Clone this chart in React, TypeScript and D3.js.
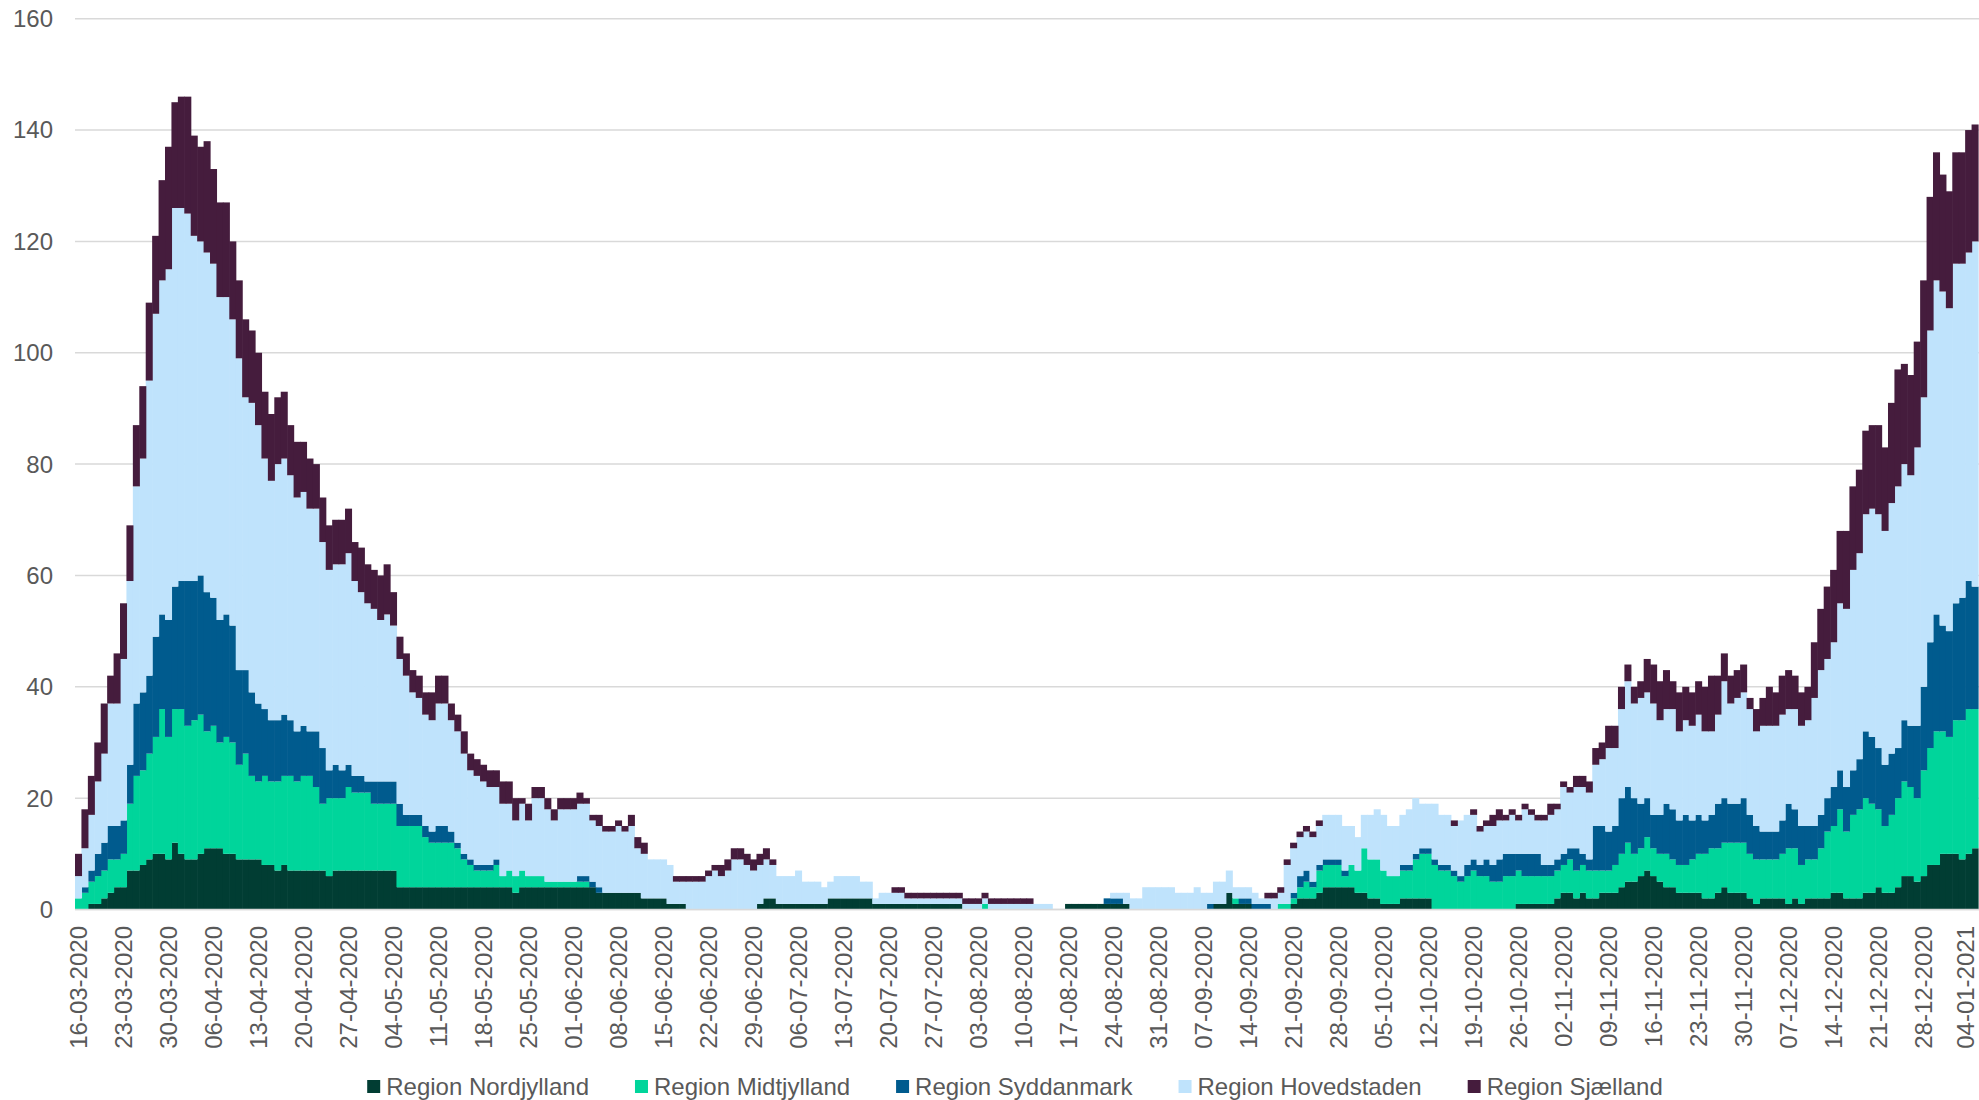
import React from "react";
import * as d3 from "d3";

// ---------- DATA ----------
const startDay = new Date(2020, 2, 16);
const endDay = new Date(2021, 0, 6); // exclusive
const days: Date[] = d3.timeDay.range(startDay, endDay);
const fmt = d3.timeFormat("%d-%m-%Y");
const categories: string[] = days.map((d) => fmt(d));

const tickLabels: string[] = [
  "16-03-2020", "23-03-2020", "30-03-2020", "06-04-2020", "13-04-2020", "20-04-2020", "27-04-2020",
  "04-05-2020", "11-05-2020", "18-05-2020", "25-05-2020", "01-06-2020", "08-06-2020", "15-06-2020",
  "22-06-2020", "29-06-2020", "06-07-2020", "13-07-2020", "20-07-2020", "27-07-2020", "03-08-2020",
  "10-08-2020", "17-08-2020", "24-08-2020", "31-08-2020", "07-09-2020", "14-09-2020", "21-09-2020",
  "28-09-2020", "05-10-2020", "12-10-2020", "19-10-2020", "26-10-2020", "02-11-2020", "09-11-2020",
  "16-11-2020", "23-11-2020", "30-11-2020", "07-12-2020", "14-12-2020", "21-12-2020", "28-12-2020",
  "04-01-2021",
];

const yTicks: number[] = [0, 20, 40, 60, 80, 100, 120, 140, 160];

const seriesNames: string[] = [
  "Region Nordjylland",
  "Region Midtjylland",
  "Region Syddanmark",
  "Region Hovedstaden",
  "Region Sjælland",
];
const seriesColors: string[] = ["#013d33", "#00d59b", "#005b8e", "#bfe3fc", "#451c3d"];

const nordjylland: number[] = [
  0,0,1,1,2,3,4,4,7,7,
  8,9,10,10,9,12,10,9,9,10,
  11,11,11,10,10,9,9,9,9,8,
  8,7,8,7,7,7,7,7,7,6,
  7,7,7,7,7,7,7,7,7,7,
  4,4,4,4,4,4,4,4,4,4,
  4,4,4,4,4,4,4,4,3,4,
  4,4,4,4,4,4,4,4,4,4,
  4,3,3,3,3,3,3,3,2,2,
  2,2,1,1,1,0,0,0,0,0,
  0,0,0,0,0,0,1,2,2,1,
  1,1,1,1,1,1,1,2,2,2,
  2,2,2,2,1,1,1,1,1,1,
  1,1,1,1,1,1,1,1,0,0,
  0,0,0,0,0,0,0,0,0,0,
  0,0,0,0,1,1,1,1,1,1,
  1,1,1,1,0,0,0,0,0,0,
  0,0,0,0,0,0,0,1,1,3,
  1,1,1,0,0,0,0,0,0,1,
  2,2,2,3,4,4,4,4,4,3,
  3,2,2,1,1,1,2,2,2,2,
  2,0,0,0,0,0,0,0,0,0,
  0,0,0,0,1,1,1,1,1,1,
  2,3,3,2,3,2,2,3,3,3,
  4,5,5,6,7,6,5,4,4,3,
  3,3,3,2,2,3,4,3,3,3,
  2,1,2,2,2,2,1,2,1,2,
  2,2,2,3,3,2,2,2,3,3,
  4,3,3,4,6,6,5,6,8,8,
  10,10,10,9,10,11,
];

const midtjylland: number[] = [
  2,3,4,5,5,6,5,6,12,17,
  17,19,21,26,22,24,26,24,25,25,
  21,22,19,21,20,17,19,15,14,16,
  15,16,16,17,16,17,17,15,12,14,
  13,13,15,14,14,14,12,12,12,12,
  11,11,11,11,9,8,8,8,8,7,
  5,4,3,3,3,4,2,3,3,3,
  2,2,2,1,1,1,1,1,1,1,
  0,0,0,0,0,0,0,0,0,0,
  0,0,0,0,0,0,0,0,0,0,
  0,0,0,0,0,0,0,0,0,0,
  0,0,0,0,0,0,0,0,0,0,
  0,0,0,0,0,0,0,0,0,0,
  0,0,0,0,0,0,0,0,0,0,
  0,1,0,0,0,0,0,0,0,0,
  0,0,0,0,0,0,0,0,0,0,
  0,0,0,0,0,0,0,0,0,0,
  0,0,0,0,0,0,0,0,0,0,
  1,0,0,0,0,0,0,1,1,1,
  2,3,2,4,4,4,4,2,4,4,
  8,7,7,6,5,5,5,5,7,8,
  8,8,7,7,6,5,6,7,6,6,
  5,5,6,6,6,5,5,5,5,5,
  5,5,6,5,5,5,5,4,4,5,
  6,7,5,5,6,5,5,6,5,5,
  5,6,7,8,9,8,8,9,9,9,
  8,8,7,7,7,8,10,9,7,7,
  7,9,12,12,15,12,15,16,17,16,
  14,12,14,16,17,16,15,19,21,24,
  22,21,24,25,26,25,
];

const syddanmark: number[] = [
  0,1,2,4,5,6,6,6,7,13,
  14,14,18,17,21,22,23,26,25,25,
  25,23,22,22,21,17,15,15,14,12,
  11,11,11,10,9,9,8,10,10,5,
  6,5,4,3,3,2,4,4,4,4,
  4,2,2,2,2,2,3,3,2,1,
  1,1,1,1,1,1,0,0,0,0,
  0,0,0,0,0,0,0,0,1,1,
  1,1,0,0,0,0,0,0,0,0,
  0,0,0,0,0,0,0,0,0,0,
  0,0,0,0,0,0,0,0,0,0,
  0,0,0,0,0,0,0,0,0,0,
  0,0,0,0,0,0,0,0,0,0,
  0,0,0,0,0,0,0,0,0,0,
  0,0,0,0,0,0,0,0,0,0,
  0,0,0,0,0,0,0,0,0,0,
  1,1,1,0,0,0,0,0,0,0,
  0,0,0,0,0,0,1,0,0,0,
  0,1,1,1,1,1,0,0,0,1,
  2,2,1,1,1,1,1,1,0,0,
  0,0,0,0,0,0,1,1,1,1,
  1,1,1,1,1,1,2,2,2,3,
  3,4,4,4,3,4,4,4,2,2,
  2,2,2,4,2,2,8,8,7,7,
  10,10,10,8,7,6,7,9,9,8,
  9,7,7,6,6,8,8,7,7,8,
  7,6,5,5,5,6,8,7,7,6,
  6,6,6,7,7,8,8,9,12,12,
  11,11,11,9,11,11,13,15,19,21,
  19,19,21,22,23,22,
];

const hovedstaden: number[] = [
  4,7,10,13,16,22,22,29,33,39,
  42,53,58,60,63,68,67,66,62,60,
  61,60,58,57,55,56,49,52,50,45,
  43,46,46,44,42,42,40,40,37,36,
  36,37,38,35,33,32,31,29,30,28,
  26,25,22,21,20,20,22,22,20,20,
  18,16,16,15,14,13,13,12,10,12,
  10,14,14,13,11,13,13,13,13,13,
  11,11,11,11,12,11,12,8,8,7,
  7,7,7,4,4,5,5,5,6,7,
  6,7,9,9,8,7,7,7,6,5,
  5,5,6,4,4,4,3,3,4,4,
  4,4,3,3,1,2,2,2,2,1,
  1,1,1,1,1,1,1,1,1,1,
  1,1,1,1,1,1,1,1,1,1,
  1,1,0,0,0,0,0,0,0,0,
  0,1,1,2,2,2,4,4,4,4,
  4,3,3,3,4,3,2,4,4,4,
  2,2,2,2,1,1,2,2,7,8,
  7,7,8,7,8,8,8,8,7,6,
  6,8,9,10,9,9,9,10,10,8,
  8,10,9,9,8,10,9,8,6,6,
  7,7,6,7,6,8,7,6,8,9,
  9,12,10,11,12,12,11,12,15,14,
  16,19,17,19,19,20,17,17,18,16,
  17,17,18,16,15,16,21,18,19,19,
  19,17,19,19,19,19,17,18,18,19,
  23,26,25,26,30,32,36,37,39,41,
  42,42,45,47,46,45,50,52,56,60,
  60,58,61,60,59,62,
];

const sjaelland: number[] = [
  4,7,7,7,9,5,9,10,10,11,
  13,14,14,18,22,19,20,21,18,17,
  20,17,17,17,14,14,14,13,13,12,
  12,12,12,9,10,9,9,8,8,8,
  8,8,8,7,8,7,7,8,9,6,
  4,4,4,4,4,5,5,5,3,3,
  4,3,3,3,3,3,4,4,4,1,
  3,2,2,2,2,2,2,2,2,1,
  1,2,1,1,1,1,2,2,2,0,
  0,0,0,1,1,1,1,1,1,1,
  2,2,2,2,2,2,2,2,1,0,
  0,0,0,0,0,0,0,0,0,0,
  0,0,0,0,0,0,0,1,1,1,
  1,1,1,1,1,1,1,1,1,1,
  1,1,1,1,1,1,1,1,1,0,
  0,0,0,0,0,0,0,0,0,0,
  0,0,0,0,0,0,0,0,0,0,
  0,0,0,0,0,0,0,0,0,0,
  0,0,0,0,0,1,1,1,1,1,
  1,1,1,1,0,0,0,0,0,0,
  0,0,0,0,0,0,0,0,0,0,
  0,0,0,0,1,0,0,1,1,1,
  2,2,1,1,1,1,1,1,1,2,
  1,1,1,2,2,2,3,3,4,4,
  4,3,3,3,6,7,7,7,5,7,
  6,6,6,8,10,7,5,5,5,5,
  2,4,5,7,6,7,7,6,6,6,
  10,11,13,13,13,14,15,15,15,15,
  16,15,18,21,18,18,19,21,24,23,
  21,21,20,20,22,21,
];

const seriesValues: number[][] = [nordjylland, midtjylland, syddanmark, hovedstaden, sjaelland];

// ---------- LAYOUT ----------
const W = 1979;
const H = 1100;
const FONT = "'Liberation Sans', Arial, sans-serif";
const TEXT = "#595959";
const GRID = "#d9d9d9";
const FS = 24;

function measure(text: string): number {
  const c = document.createElement("canvas").getContext("2d");
  if (!c) return text.length * 12;
  c.font = `${FS}px 'Liberation Sans', Arial, sans-serif`;
  return c.measureText(text).width;
}

export default function App() {
  const rows = categories.map((c, i) => {
    const r: any = { cat: c };
    seriesNames.forEach((s, k) => (r[s] = seriesValues[k][i] ?? 0));
    return r;
  });
  const stacked = d3.stack<any>().keys(seriesNames)(rows);

  const x = d3.scaleBand<string>().domain(categories).range([75, 1978]).padding(0);
  const y = d3.scaleLinear().domain([0, 160]).range([909.5, 18.7]);
  const bw = x.bandwidth();

  // legend layout
  const marker = 13;
  const mgap = 6;
  const igap = 46;
  const widths = seriesNames.map((s) => marker + mgap + measure(s));
  const total = d3.sum(widths) + igap * (seriesNames.length - 1);
  let lx = 1015 - total / 2;
  const legendPos = widths.map((w) => {
    const p = lx;
    lx += w + igap;
    return p;
  });

  return (
    <svg
      width={W}
      height={H}
      viewBox={`0 0 ${W} ${H}`}
      style={{ position: "absolute", left: 0, top: 0, background: "#fff" }}
      fontFamily={FONT}
    >
      {/* gridlines */}
      {yTicks.map((t) => (
        <line key={"g" + t} x1={75} x2={1979} y1={y(t)} y2={y(t)} stroke={GRID} strokeWidth={1.5} />
      ))}
      {/* y labels */}
      {yTicks.map((t) => (
        <text key={"yl" + t} x={53} y={y(t)} dy="0.35em" textAnchor="end" fontSize={FS} fill={TEXT}>
          {t}
        </text>
      ))}
      {/* bars */}
      {stacked.map((layer, k) => (
        <g key={layer.key} fill={seriesColors[k]}>
          {layer.map((seg, i) => {
            const h = y(seg[0]) - y(seg[1]);
            if (h <= 0) return null;
            return (
              <rect
                key={i}
                x={x(categories[i])!}
                y={y(seg[1])}
                width={bw + 0.6}
                height={h}
              />
            );
          })}
        </g>
      ))}
      {/* baseline */}
      <line x1={75} x2={1979} y1={y(0)} y2={y(0)} stroke={GRID} strokeWidth={1.5} />
      {/* x labels */}
      {tickLabels.map((lab, j) => {
        const cx = Math.min(x(categories[j * 7])! + bw / 2, 1966);
        return (
          <text
            key={lab}
            transform={`translate(${cx},926) rotate(-90)`}
            dy="0.35em"
            textAnchor="end"
            fontSize={FS}
            fill={TEXT}
          >
            {lab}
          </text>
        );
      })}
      {/* legend */}
      {seriesNames.map((s, k) => (
        <g key={"lg" + s} transform={`translate(${legendPos[k]},0)`}>
          <rect x={0} y={1080} width={marker} height={marker} fill={seriesColors[k]} />
          <text x={marker + mgap} y={1087} dy="0.35em" fontSize={FS} fill={TEXT}>
            {s}
          </text>
        </g>
      ))}
    </svg>
  );
}
